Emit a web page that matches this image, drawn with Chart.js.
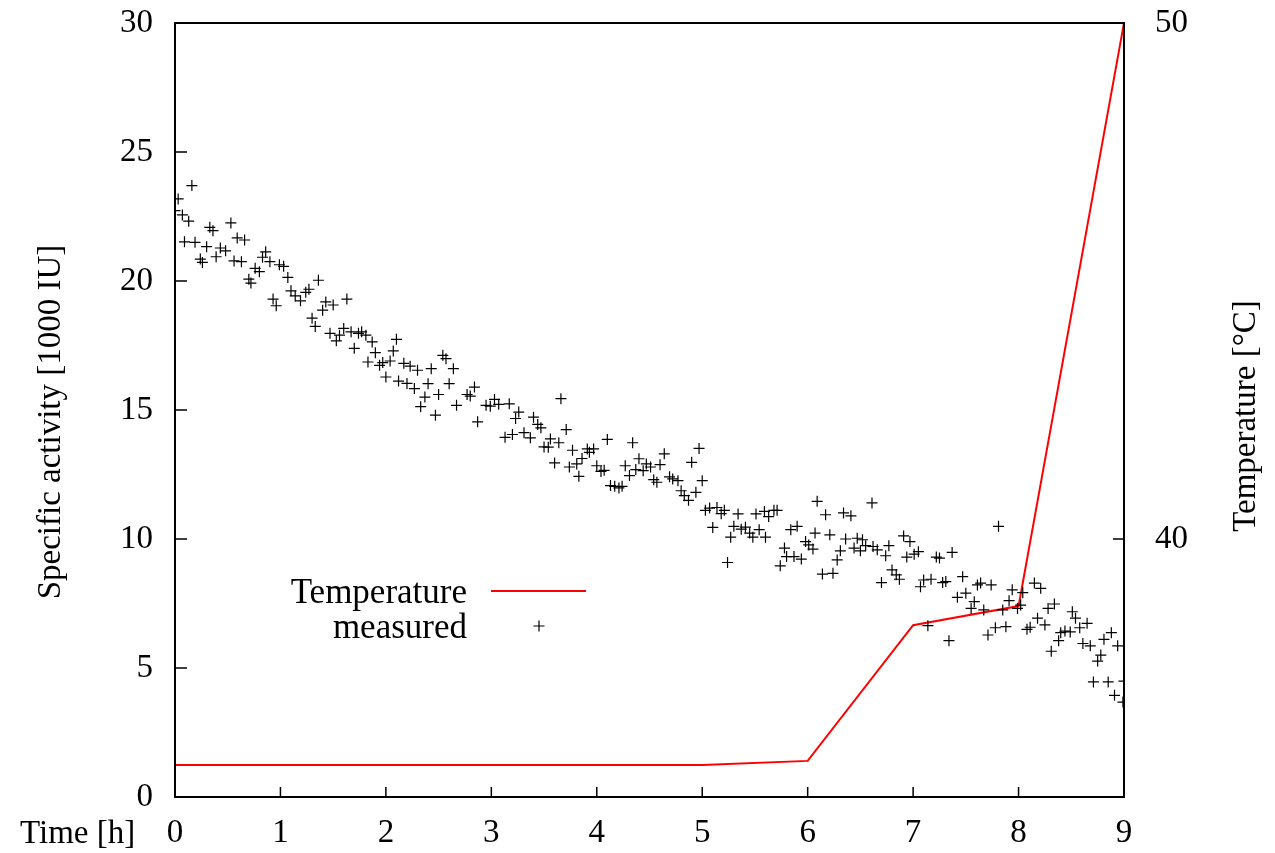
<!DOCTYPE html>
<html>
<head>
<meta charset="utf-8">
<script src="https://cdn.jsdelivr.net/npm/chart.js@4/dist/chart.umd.min.js"></script>
<style>
html,body{margin:0;padding:0;background:#fff;}
canvas{display:block;}
</style>
</head>
<body>
<canvas id="c" width="1275" height="853"></canvas>
<script>
// ---- tick labels ----
const timeTicks = [0, 1, 2, 3, 4, 5, 6, 7, 8, 9];
const activityTicks = [0, 5, 10, 15, 20, 25, 30];
const temperatureTicks = [40, 50];

// ---- titles / labels ----
const xTitle = 'Time [h]';
const yTitle = 'Specific activity [1000 IU]';
const y2Title = 'Temperature [°C]';
const tempLabel = 'Temperature';
const measuredLabel = 'measured';

// ---- temperature series (right axis, °C) ----
const tempTime  = [0, 1, 2, 3, 4, 5, 6, 7, 8, 9];
const tempValue = [35.62, 35.62, 35.62, 35.62, 35.62, 35.62, 35.7, 38.33, 38.7, 50];

// ---- measured specific activity (left axis, 1000 IU) ----
const measuredTime = [
0.16,0.03,0.00,0.07,0.13,0.33,0.36,0.53,0.59,0.66,0.09,0.19,0.30,0.43,0.48,0.24,0.26,0.39,0.56,0.63,
0.86,0.83,0.90,0.76,0.80,0.99,1.03,0.70,0.72,1.07,1.36,1.10,1.14,1.19,1.24,1.27,0.93,0.96,1.43,1.50,
1.40,1.30,1.33,1.47,1.63,1.60,1.56,1.53,1.67,1.74,1.77,1.81,1.87,2.10,1.70,1.90,2.07,1.83,1.94,1.97,
2.04,2.17,2.23,2.30,2.43,2.54,2.57,2.64,2.00,2.12,2.20,2.27,2.40,2.60,2.37,2.33,2.50,2.47,2.67,2.84,
2.77,2.80,2.87,2.95,2.99,3.03,3.07,3.17,3.66,3.26,3.23,3.40,3.44,3.47,3.71,3.13,3.20,3.31,3.37,3.56,
3.64,3.50,3.54,3.77,3.91,3.97,3.93,4.10,4.34,3.60,3.74,3.81,3.86,4.00,4.04,4.07,3.83,4.27,4.40,4.37,
4.44,4.47,4.51,4.31,4.13,4.17,4.21,4.24,4.64,4.97,4.60,4.90,4.54,4.57,4.69,4.72,4.77,5.00,4.80,4.83,
4.87,4.94,5.03,5.07,5.14,5.18,5.21,5.34,5.10,5.30,5.27,5.37,5.41,5.45,5.48,5.54,5.60,5.51,5.59,5.63,
5.68,5.71,5.24,5.78,5.84,5.90,6.07,5.98,6.01,6.05,5.80,5.87,5.94,5.74,6.09,6.61,6.17,6.34,6.41,6.21,
6.36,6.47,6.52,6.55,6.62,6.66,6.77,6.91,6.97,6.31,6.44,6.50,6.74,6.28,6.94,7.01,7.05,7.22,7.25,7.37,
6.14,6.24,6.80,6.84,6.87,6.70,7.10,7.17,7.07,7.28,7.31,7.47,7.61,7.42,7.50,7.58,7.55,7.14,7.34,7.81,
7.64,7.74,7.94,8.04,8.15,8.21,7.67,7.85,7.91,7.99,8.02,8.28,8.34,7.71,7.78,7.88,8.08,8.11,8.18,8.25,
8.51,8.54,8.65,8.58,8.40,8.44,8.49,8.38,8.31,8.61,8.68,8.81,8.88,8.94,8.78,8.75,8.71,8.85,9.00,8.91,
8.99
];
const measuredActivity = [
23.70,23.18,22.73,22.56,22.32,22.08,21.95,22.25,21.67,21.59,21.52,21.50,21.33,21.28,21.17,20.85,20.72,20.94,20.78,20.75,
21.13,20.92,20.75,20.49,20.36,20.63,20.57,20.07,19.92,20.14,20.03,19.62,19.42,19.23,19.56,19.68,19.30,19.04,19.19,19.07,
18.87,18.56,18.24,17.97,19.30,18.16,17.90,17.68,18.03,17.97,18.03,17.90,17.64,17.74,17.39,17.22,17.29,16.86,16.73,16.84,
16.90,16.81,16.70,16.54,16.60,17.12,16.99,16.60,16.28,16.12,16.03,15.83,16.02,16.02,15.50,15.13,15.60,14.80,15.18,15.89,
15.60,15.54,14.54,15.18,15.15,15.41,15.22,15.24,15.44,14.92,14.67,14.72,14.44,14.31,14.24,13.94,14.05,14.12,13.92,13.88,
13.73,13.57,13.56,13.44,13.49,13.49,13.36,13.86,13.73,12.95,12.79,12.91,13.12,12.84,12.62,12.66,12.43,12.84,13.11,12.69,
12.65,12.91,12.79,12.46,12.07,12.04,11.98,12.04,13.30,13.51,12.88,12.97,12.30,12.20,12.41,12.33,12.26,12.26,11.87,11.68,
11.50,11.81,11.11,11.20,11.22,10.98,11.11,10.97,10.45,10.49,10.07,10.38,10.46,10.23,10.07,10.36,10.07,10.97,11.07,10.87,
11.11,11.11,9.09,9.65,10.36,10.49,10.23,9.90,9.77,9.61,9.32,9.32,9.22,8.96,11.46,11.40,10.94,11.01,10.90,10.16,
10.00,10.03,9.97,9.74,9.71,9.58,9.74,10.12,9.90,9.54,9.65,9.54,9.35,9.19,9.30,9.41,9.51,9.30,9.26,9.48,
8.64,8.67,8.80,8.61,8.44,8.31,8.41,8.44,8.15,8.31,8.35,8.54,8.22,7.74,7.90,7.57,7.31,6.64,6.06,10.49,
8.29,8.22,8.03,7.92,8.29,8.09,7.25,7.25,7.61,7.31,7.44,7.31,7.48,6.28,6.56,6.60,6.50,6.58,6.93,6.67,
7.18,6.93,6.73,6.56,6.37,6.43,6.40,6.06,5.65,5.95,5.86,6.11,6.37,5.86,5.50,5.27,4.46,4.46,4.49,3.94,
3.68
];

const FONT = "'Liberation Serif', 'Times New Roman', serif";
const FSIZE = 33;
const LEGEND_FSIZE = 35;
Chart.defaults.font.family = FONT;
Chart.defaults.font.size = FSIZE;
Chart.defaults.color = '#000';

const toTicks = arr => arr.map(v => ({ value: v }));
const noPad = s => { s.paddingTop = 0; s.paddingBottom = 0; s.paddingLeft = 0; s.paddingRight = 0; };

const gnuplotDecor = {
  id: 'gnuplotDecor',
  afterDraw(chart) {
    const { ctx, chartArea: a, scales } = chart;
    ctx.save();
    ctx.strokeStyle = '#000';
    ctx.lineWidth = 1.5;
    ctx.beginPath();
    scales.x.ticks.forEach(t => {
      const px = scales.x.getPixelForValue(t.value);
      ctx.moveTo(px, a.bottom); ctx.lineTo(px, a.bottom - 10);
    });
    scales.y.ticks.forEach(t => {
      const py = scales.y.getPixelForValue(t.value);
      ctx.moveTo(a.left, py); ctx.lineTo(a.left + 12, py);
    });
    scales.y2.ticks.forEach(t => {
      const py = scales.y2.getPixelForValue(t.value);
      ctx.moveTo(a.right, py); ctx.lineTo(a.right - 11, py);
    });
    ctx.stroke();
    ctx.lineWidth = 2;
    ctx.strokeRect(a.left, a.top, a.right - a.left, a.bottom - a.top);

    ctx.fillStyle = '#000';
    ctx.font = FSIZE + 'px ' + FONT;
    // x axis label, left of the tick labels
    ctx.textAlign = 'left';
    ctx.textBaseline = 'alphabetic';
    ctx.fillText(xTitle, 20, 843);
    // axis titles, both reading bottom to top (gnuplot style)
    [[yTitle, 51, 422], [y2Title, 1246, 416]].forEach(([txt, x, y]) => {
      ctx.save();
      ctx.translate(x, y);
      ctx.rotate(-Math.PI / 2);
      ctx.textAlign = 'center';
      ctx.textBaseline = 'middle';
      ctx.fillText(txt, 0, 0);
      ctx.restore();
    });

    // legend (gnuplot style: text right-aligned, sample to the right)
    const dsT = chart.data.datasets[0];
    const dsM = chart.data.datasets[1];
    ctx.font = LEGEND_FSIZE + 'px ' + FONT;
    ctx.textAlign = 'right';
    ctx.textBaseline = 'alphabetic';
    ctx.fillText(dsT.label, 467, 603);
    ctx.fillText(dsM.label, 467, 638);
    ctx.strokeStyle = dsT.borderColor;
    ctx.lineWidth = dsT.borderWidth;
    ctx.beginPath();
    ctx.moveTo(491, 591); ctx.lineTo(586, 591);
    ctx.stroke();
    ctx.strokeStyle = dsM.borderColor;
    ctx.lineWidth = dsM.borderWidth;
    const r = dsM.pointRadius;
    ctx.beginPath();
    ctx.moveTo(539 - r, 626); ctx.lineTo(539 + r, 626);
    ctx.moveTo(539, 626 - r); ctx.lineTo(539, 626 + r);
    ctx.stroke();
    ctx.restore();
  }
};

new Chart(document.getElementById('c'), {
  type: 'scatter',
  data: {
    datasets: [
      {
        label: tempLabel,
        type: 'line',
        data: tempTime.map((t, i) => ({ x: t, y: tempValue[i] })),
        yAxisID: 'y2',
        borderColor: '#ff0000',
        borderWidth: 2,
        pointRadius: 0,
        tension: 0,
        fill: false,
        order: 2
      },
      {
        label: measuredLabel,
        data: measuredTime.map((t, i) => ({ x: t, y: measuredActivity[i] })),
        yAxisID: 'y',
        pointStyle: 'cross',
        pointRadius: 5.5,
        pointHoverRadius: 5.5,
        borderColor: '#000',
        backgroundColor: '#000',
        borderWidth: 1.2,
        showLine: false,
        order: 1
      }
    ]
  },
  options: {
    responsive: false,
    animation: false,
    devicePixelRatio: 1,
    layout: { padding: { top: 23, left: 0, right: 0, bottom: 0 } },
    plugins: { legend: { display: false }, tooltip: { enabled: false } },
    scales: {
      x: {
        type: 'linear',
        min: 0, max: 9,
        afterBuildTicks: s => { s.ticks = toTicks(timeTicks); },
        afterFit: s => { s.height = 56; noPad(s); },
        grid: { display: false, drawTicks: false },
        border: { display: false },
        ticks: { padding: 17, maxRotation: 0, autoSkip: false, color: '#000' }
      },
      y: {
        type: 'linear',
        position: 'left',
        min: 0, max: 30,
        afterBuildTicks: s => { s.ticks = toTicks(activityTicks); },
        afterFit: s => { s.width = 175; noPad(s); },
        grid: { display: false, drawTicks: false },
        border: { display: false },
        ticks: { padding: 22, color: '#000' },
        title: { display: false, text: yTitle }
      },
      y2: {
        type: 'linear',
        position: 'right',
        min: 35, max: 50,
        afterBuildTicks: s => { s.ticks = toTicks(temperatureTicks); },
        afterFit: s => { s.width = 151; noPad(s); },
        grid: { display: false, drawTicks: false },
        border: { display: false },
        ticks: { padding: 31, color: '#000' },
        title: { display: false, text: y2Title }
      }
    }
  },
  plugins: [gnuplotDecor]
});
</script>
</body>
</html>
